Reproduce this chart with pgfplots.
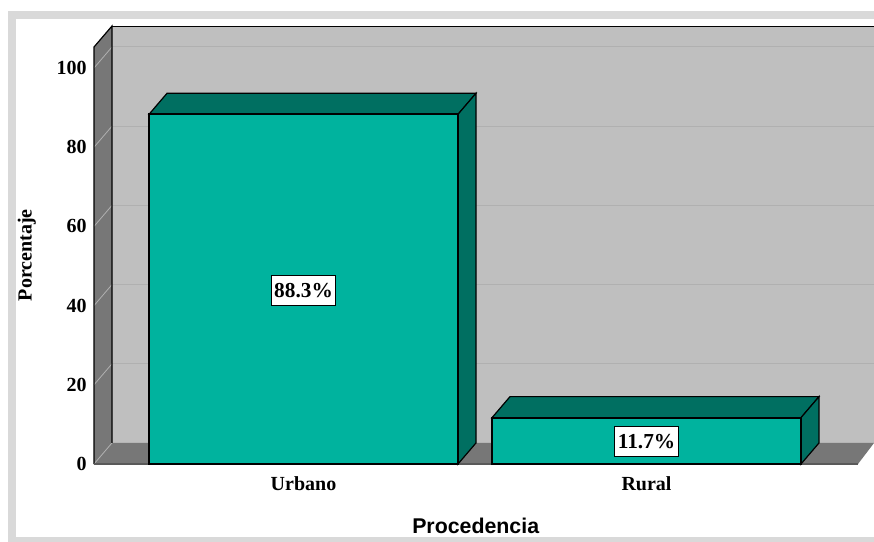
\documentclass[border=0pt]{standalone}
\usepackage{pgfplots}
\pgfplotsset{compat=1.18}
\usepackage{fontspec}
\setmainfont{Liberation Serif}
\newfontfamily\labsans{Liberation Sans}
\definecolor{wallc}{HTML}{BFBFBF}
\definecolor{sidec}{HTML}{777777}
\definecolor{barc}{HTML}{00B39E}
\definecolor{bard}{HTML}{006F61}
\definecolor{framec}{HTML}{D9D9D9}
\definecolor{gridc}{HTML}{B0B0B0}
\begin{document}
\begin{tikzpicture}[x=0.75pt,y=-0.75pt]
\path[use as bounding box,fill=white] (0,0) rectangle (874,542);
\fill[framec] (8,11) rectangle (874,542);
\fill[white] (16,19) rectangle (874,537);
\begin{axis}[
  at={(70.5pt,-348pt)},anchor=south west,
  scale only axis,width=573pt,height=297pt,
  xmin=-0.6108,xmax=1.6166,ymin=0,ymax=100,
  clip=false,
  axis line style={draw=none},
  major tick length=0pt,
  xtick={0,1},xticklabels={Urbano,Rural},
  ytick={0,20,40,60,80,100},
  /pgf/number format/assume math mode=true,
  tick label style={font=\bfseries\fontsize{15}{15}\selectfont,text=black},
  yticklabel style={xshift=-2pt},
  xticklabel style={yshift=-6.25pt},
  xlabel={Procedencia},
  ylabel={Porcentaje},
  every axis x label/.style={at={(axis cs:0.502,-15.6)},anchor=center,font=\labsans\bfseries\fontsize{16}{16}\selectfont},
  every axis y label/.style={at={(axis cs:-0.807,52.7)},anchor=center,rotate=90,font=\bfseries\fontsize{15}{15}\selectfont},
]
% back wall
\addplot[fill=wallc,draw=none] coordinates {(-0.5583,5.32)(1.6633,5.32)(1.6633,110.6)(-0.5583,110.6)} -- cycle;
% grid on the back wall
\addplot[gridc,line width=0.7pt] coordinates {(-0.5583,25.32)(1.6633,25.32)};
\addplot[gridc,line width=0.7pt] coordinates {(-0.5583,45.32)(1.6633,45.32)};
\addplot[gridc,line width=0.7pt] coordinates {(-0.5583,65.32)(1.6633,65.32)};
\addplot[gridc,line width=0.7pt] coordinates {(-0.5583,85.32)(1.6633,85.32)};
\addplot[gridc,line width=0.7pt] coordinates {(-0.5583,105.32)(1.6633,105.32)};
% floor
\addplot[fill=sidec,draw=none] coordinates {(-0.6108,0)(1.6166,0)(1.6633,5.32)(-0.5583,5.32)} -- cycle;
% left wall
\addplot[fill=sidec,draw=none] coordinates {(-0.6108,0)(-0.5583,5.32)(-0.5583,110.6)(-0.6108,105.3)} -- cycle;
% wall grid diagonals
\addplot[gridc,line width=0.6pt] coordinates {(-0.6108,0)(-0.5583,5.32)};
\addplot[gridc,line width=0.6pt] coordinates {(-0.6108,20)(-0.5583,25.32)};
\addplot[gridc,line width=0.6pt] coordinates {(-0.6108,40)(-0.5583,45.32)};
\addplot[gridc,line width=0.6pt] coordinates {(-0.6108,60)(-0.5583,65.32)};
\addplot[gridc,line width=0.6pt] coordinates {(-0.6108,80)(-0.5583,85.32)};
\addplot[gridc,line width=0.6pt] coordinates {(-0.6108,100)(-0.5583,105.32)};
% wall outlines
\addplot[black,line width=0.9pt] coordinates {(-0.6108,0)(-0.6108,105.3)(-0.5583,110.6)(-0.5583,5.32)};
\addplot[black,line width=0.7pt] coordinates {(-0.5583,110.6)(1.6633,110.6)};
\addplot[black!65,line width=0.8pt] coordinates {(-0.6108,0)(1.6166,0)};
% bar tops and sides
\addplot[fill=bard,draw=black,line width=0.9pt] coordinates {(-0.4504,88.3)(0.4504,88.3)(0.5029,93.62)(-0.3979,93.62)} -- cycle;
\addplot[fill=bard,draw=black,line width=0.9pt] coordinates {(0.4504,0)(0.5029,5.32)(0.5029,93.62)(0.4504,88.3)} -- cycle;
\addplot[fill=bard,draw=black,line width=0.9pt] coordinates {(0.5496,11.7)(1.4504,11.7)(1.5029,17.02)(0.6021,17.02)} -- cycle;
\addplot[fill=bard,draw=black,line width=0.9pt] coordinates {(1.4504,0)(1.5029,5.32)(1.5029,17.02)(1.4504,11.7)} -- cycle;
% bar fronts
\addplot[ybar,bar width=231.75pt,fill=barc,draw=black,line width=1.3pt] coordinates {(0,88.3)(1,11.7)};
% value labels
\node[draw=black,fill=white,line width=0.6pt,inner sep=0pt,minimum width=48pt,minimum height=22.5pt,font=\bfseries\fontsize{16}{16}\selectfont] at (axis cs:0,43.8) {88.3\%};
\node[draw=black,fill=white,line width=0.6pt,inner sep=0pt,minimum width=48pt,minimum height=22.5pt,font=\bfseries\fontsize{16}{16}\selectfont] at (axis cs:1,5.6) {11.7\%};
\end{axis}
\end{tikzpicture}
\end{document}
